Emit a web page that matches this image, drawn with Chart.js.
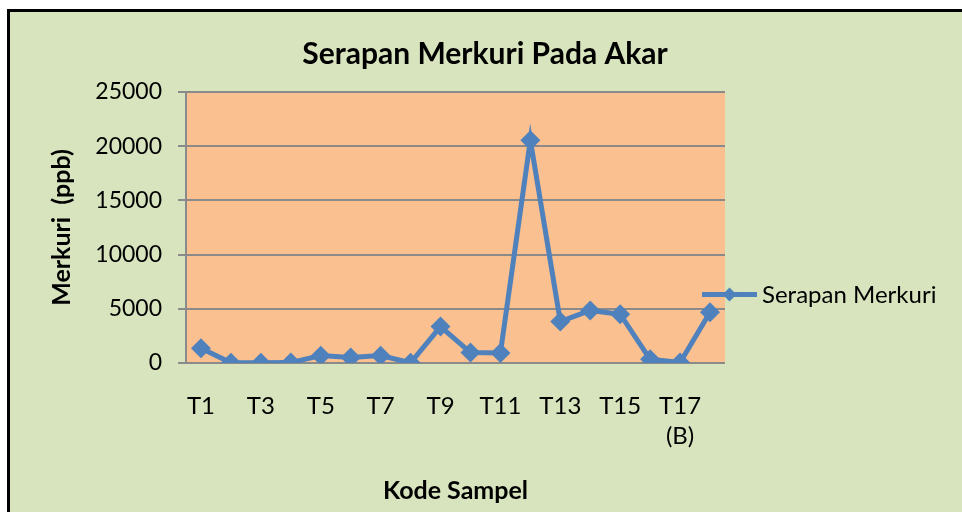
<!DOCTYPE html>
<html>
<head>
<meta charset="utf-8">
<script src="https://cdn.jsdelivr.net/npm/chart.js@4/dist/chart.umd.min.js"></script>
<style>
  html, body { margin: 0; padding: 0; background: #ffffff; }
  #wrap { position: absolute; left: 0; top: 0; width: 962px; height: 512px; }
</style>
</head>
<body>
<div id="wrap"><canvas id="c" width="962" height="512"></canvas></div>
<script>
// ---- data ----
const categories = ['T1','T2','T3','T4','T5','T6','T7','T8','T9','T10','T11','T12','T13','T14','T15','T16','T17 (B)','T18'];
const serapanMerkuri = [1360, 20, 20, 40, 680, 500, 680, 20, 3360, 960, 920, 20560, 3830, 4850, 4500, 340, 40, 4690];
const yTicks = [0, 5000, 10000, 15000, 20000, 25000];
const chartTitle = 'Serapan Merkuri Pada Akar';
const xTitle = 'Kode Sampel';
const yTitle = 'Merkuri  (ppb)';
const seriesName = 'Serapan Merkuri';

const GREEN = '#D7E4BD';
const ORANGE = '#FAC090';
const BLUE = '#4F81BD';
const GRID = '#8A8A8A';
const FONT = 'Lato, Carlito, Calibri, "Open Sans", sans-serif';

const backgroundPlugin = {
  id: 'bg',
  beforeDraw(chart) {
    const ctx = chart.ctx;
    ctx.save();
    ctx.fillStyle = '#ffffff';
    ctx.fillRect(0, 0, chart.width, chart.height);
    ctx.fillStyle = GREEN;
    ctx.fillRect(8, 10, chart.width, chart.height);
    ctx.strokeStyle = '#000000';
    ctx.lineWidth = 3;
    ctx.beginPath();
    ctx.moveTo(8.5, chart.height + 5);
    ctx.lineTo(8.5, 10.5);
    ctx.lineTo(chart.width + 5, 10.5);
    ctx.stroke();
    const a = chart.chartArea;
    ctx.fillStyle = ORANGE;
    ctx.fillRect(a.left, a.top, a.right - a.left, a.bottom - a.top);
    ctx.restore();
  }
};

const titlePlugin = {
  id: 'centerTitle',
  afterDraw(chart) {
    const ctx = chart.ctx;
    ctx.save();
    ctx.fillStyle = '#000000';
    ctx.font = 'bold 30px ' + FONT;
    ctx.textAlign = 'center';
    ctx.textBaseline = 'middle';
    ctx.fillText(chartTitle, (8 + chart.width) / 2, 54);
    ctx.restore();
  }
};

const legendPlugin = {
  id: 'lineLegend',
  afterDraw(chart) {
    const ctx = chart.ctx;
    const a = chart.chartArea;
    const ds = chart.data.datasets[0];
    const y = (a.top + a.bottom) / 2 + 67;
    const x0 = a.right - 23;
    const x1 = x0 + 55;
    const cx = (x0 + x1) / 2, r = 7;
    ctx.save();
    ctx.strokeStyle = ds.borderColor;
    ctx.lineWidth = ds.borderWidth;
    ctx.beginPath();
    ctx.moveTo(x0, y);
    ctx.lineTo(x1, y);
    ctx.stroke();
    ctx.fillStyle = ds.pointBackgroundColor;
    ctx.beginPath();
    ctx.moveTo(cx, y - r); ctx.lineTo(cx + r, y); ctx.lineTo(cx, y + r); ctx.lineTo(cx - r, y); ctx.closePath();
    ctx.fill();
    ctx.fillStyle = '#000000';
    ctx.font = '24px ' + FONT;
    ctx.textBaseline = 'middle';
    ctx.textAlign = 'left';
    ctx.fillText(ds.label, x1 + 5, y + 1);
    ctx.restore();
  }
};

new Chart(document.getElementById('c'), {
  type: 'line',
  data: {
    labels: categories,
    datasets: [{
      label: seriesName,
      data: serapanMerkuri,
      borderColor: BLUE,
      backgroundColor: BLUE,
      pointBackgroundColor: BLUE,
      pointBorderColor: BLUE,
      borderWidth: 5,
      pointStyle: 'rectRot',
      pointRadius: 10,
      pointBorderWidth: 0,
      tension: 0,
      fill: false
    }]
  },
  options: {
    responsive: false,
    animation: false,
    devicePixelRatio: 1,
    layout: { padding: { left: 45, right: 237, top: 92, bottom: 2 } },
    plugins: {
      legend: { display: false },
      tooltip: { enabled: false },
      title: { display: false }
    },
    scales: {
      x: {
        type: 'category',
        offset: true,
        grid: { display: false, drawTicks: false },
        border: { display: false },
        ticks: {
          autoSkip: false,
          maxRotation: 0,
          minRotation: 0,
          padding: 28,
          color: '#000000',
          font: { family: FONT, size: 24, lineHeight: 1.25 },
          callback: function (v, i) {
            if (i % 2 !== 0) return null;
            const l = categories[i];
            return l.indexOf(' ') >= 0 ? l.split(' ') : l;
          }
        },
        title: {
          display: true,
          text: xTitle,
          color: '#000000',
          font: { family: FONT, size: 25, weight: 'bold', lineHeight: 1.2 },
          padding: { top: 4, bottom: 4 }
        },
        afterFit(scale) { scale.height = 147; }
      },
      y: {
        min: 0,
        max: 25000,
        afterBuildTicks(scale) { scale.ticks = yTicks.map(v => ({ value: v })); },
        grid: { color: GRID, lineWidth: 2, drawTicks: true, tickLength: 8, tickColor: GRID },
        border: { display: true, color: GRID, width: 2 },
        ticks: {
          padding: 16,
          color: '#000000',
          font: { family: FONT, size: 23, lineHeight: 1.2 },
          callback: v => String(v)
        },
        title: {
          display: true,
          text: yTitle,
          color: '#000000',
          font: { family: FONT, size: 25, weight: 'bold', lineHeight: 1.2 },
          padding: { top: 2, bottom: 2 }
        },
        afterFit(scale) { scale.width = 141; }
      }
    }
  },
  plugins: [backgroundPlugin, titlePlugin, legendPlugin]
});
</script>
</body>
</html>
